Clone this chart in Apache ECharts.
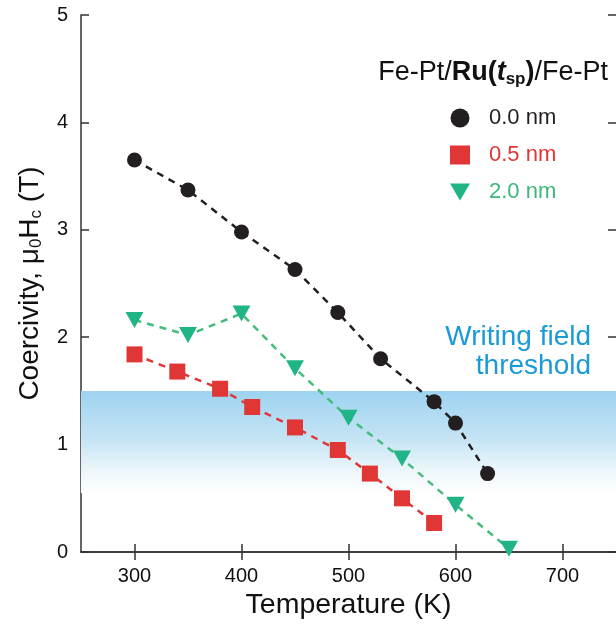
<!DOCTYPE html>
<html><head><meta charset="utf-8">
<script src="https://cdn.jsdelivr.net/npm/echarts@6/dist/echarts.min.js"></script>
<style>html,body{margin:0;padding:0;background:#fff}#chart{width:616px;height:629px}</style>
</head><body><div id="chart"></div>
<script>
// Coercivity vs temperature for Fe-Pt/Ru(t_sp)/Fe-Pt stacks
const temps00 = [300, 350, 400, 450, 490, 530, 580, 600, 630];
const coer00  = [3.65, 3.37, 2.98, 2.63, 2.23, 1.80, 1.40, 1.20, 0.73];
const temps05 = [300, 340, 380, 410, 450, 490, 520, 550, 580];
const coer05  = [1.84, 1.68, 1.52, 1.35, 1.16, 0.95, 0.73, 0.50, 0.27];
const temps20 = [300, 350, 400, 450, 500, 550, 600, 650];
const coer20  = [2.16, 2.02, 2.22, 1.71, 1.25, 0.87, 0.44, 0.03];
const seriesNames = ['0.0 nm', '0.5 nm', '2.0 nm'];
const xTicks = [300, 400, 500, 600, 700];
const xRange = [250, 750];
const yRange = [0, 5];
const thresholdBand = [1.5, 0.55];   // writing field threshold, fading downwards

const FONT = "'Liberation Sans', Arial, Helvetica, sans-serif";
const AXIS = '#333333';
const BLACK = '#231f20', RED = '#e03636', GREEN = '#21b487', GREEN_LINE = '#45bb7c';
const BLUE_TEXT = '#1b9ad8';
const downTri = 'path://M0,0L20,0L10,17Z';

const pairs = (xs, ys) => xs.map((x, i) => [x, ys[i]]);

const chart = echarts.init(document.getElementById('chart'), null, {renderer: 'canvas'});

const axisLineStyle = {show: true, lineStyle: {color: AXIS, width: 1.5}};
const tickIn = {show: true, inside: true, length: 8, lineStyle: {color: AXIS, width: 1.5}};

chart.setOption({
  animation: false,
  backgroundColor: '#fff',
  textStyle: {fontFamily: FONT},
  grid: {left: 81, right: 0, top: 15, bottom: 77, containLabel: false},
  xAxis: [{
    type: 'value', min: xRange[0], max: xRange[1], position: 'bottom',
    axisLine: axisLineStyle,
    axisTick: Object.assign({customValues: xTicks}, tickIn),
    axisLabel: {customValues: xTicks, fontSize: 20, color: '#111', margin: 14, fontFamily: FONT},
    splitLine: {show: false},
    name: 'Temperature (K)', nameLocation: 'middle', nameGap: 37,
    nameTextStyle: {fontSize: 28.5, color: '#111', fontFamily: FONT}
  }, {
    type: 'value', min: xRange[0], max: xRange[1], position: 'top',
    axisLine: axisLineStyle,
    axisTick: Object.assign({customValues: xTicks}, tickIn),
    axisLabel: {show: false}, splitLine: {show: false}
  }],
  yAxis: [{
    type: 'value', min: yRange[0], max: yRange[1], interval: 1, position: 'left',
    axisLine: axisLineStyle, axisTick: tickIn,
    axisLabel: {fontSize: 20, color: '#111', margin: 13, fontFamily: FONT},
    splitLine: {show: false},
    name: '{n|Coercivity, μ}{s|0}{n|H}{s|c}{n| (T)}',
    nameLocation: 'middle', nameRotate: 90, nameGap: 36,
    nameTextStyle: {
      color: '#111', fontFamily: FONT,
      rich: {
        n: {fontSize: 28, color: '#111', fontFamily: FONT},
        s: {fontSize: 17, color: '#111', fontFamily: FONT, padding: [12, 0, 0, 0]}
      }
    }
  }, {
    // right side carries only inward ticks; its line sits just past the edge
    type: 'value', min: yRange[0], max: yRange[1], interval: 1, position: 'right',
    axisLine: {show: false}, axisTick: tickIn,
    axisLabel: {show: false}, splitLine: {show: false}
  }],
  legend: {
    orient: 'vertical', left: 445, top: 102,
    itemWidth: 20, itemHeight: 19, itemGap: 15,
    textStyle: {fontSize: 22, fontFamily: FONT, padding: [0, 0, 0, 14]},
    data: [
      {name: seriesNames[0], icon: 'circle', textStyle: {color: BLACK}},
      {name: seriesNames[1], icon: 'rect', textStyle: {color: RED}},
      {name: seriesNames[2], icon: downTri, textStyle: {color: '#3cb87a'}}
    ]
  },
  graphic: [{
    type: 'text', x: 608, y: 73,
    style: {
      text: '{n|Fe-Pt/}{b|Ru(}{bi|t}{sub|sp}{b|)}{n|/Fe-Pt}',
      align: 'right', verticalAlign: 'middle', fill: '#111',
      rich: {
        n: {fontSize: 27, fontFamily: FONT, fill: '#111'},
        b: {fontSize: 27, fontFamily: FONT, fontWeight: 'bold', fill: '#111'},
        bi: {fontSize: 27, fontFamily: FONT, fontWeight: 'bold', fontStyle: 'italic', fill: '#111'},
        sub: {fontSize: 17, fontFamily: FONT, fontWeight: 'bold', fill: '#111', padding: [12, 0, 0, 0]}
      }
    }
  }, {
    type: 'text', x: 591, y: 352,
    style: {
      text: 'Writing field\nthreshold', align: 'right', verticalAlign: 'middle',
      fontSize: 28, lineHeight: 29, fontFamily: FONT, fill: BLUE_TEXT
    }
  }],
  series: [{
    name: seriesNames[0], type: 'line', data: pairs(temps00, coer00),
    symbol: 'circle', symbolSize: 15, z: 5,
    itemStyle: {color: BLACK},
    lineStyle: {color: BLACK, width: 2.5, type: [7, 6]},
    markArea: {
      silent: true,
      itemStyle: {
        color: new echarts.graphic.LinearGradient(0, 0, 0, 1, [
          {offset: 0, color: '#9dd3f1'},
          {offset: 0.45, color: '#c3e3f4'},
          {offset: 0.8, color: '#eef7fb'},
          {offset: 1, color: '#ffffff'}
        ])
      },
      data: [[{yAxis: thresholdBand[0]}, {yAxis: thresholdBand[1]}]]
    }
  }, {
    name: seriesNames[1], type: 'line', data: pairs(temps05, coer05),
    symbol: 'rect', symbolSize: 16, z: 4,
    itemStyle: {color: RED},
    lineStyle: {color: RED, width: 2.5, type: [7, 6]}
  }, {
    name: seriesNames[2], type: 'line', data: pairs(temps20, coer20),
    symbol: downTri, symbolSize: [18, 16], z: 3,
    itemStyle: {color: GREEN},
    lineStyle: {color: GREEN_LINE, width: 2.5, type: [7, 6]}
  }]
});
</script></body></html>
